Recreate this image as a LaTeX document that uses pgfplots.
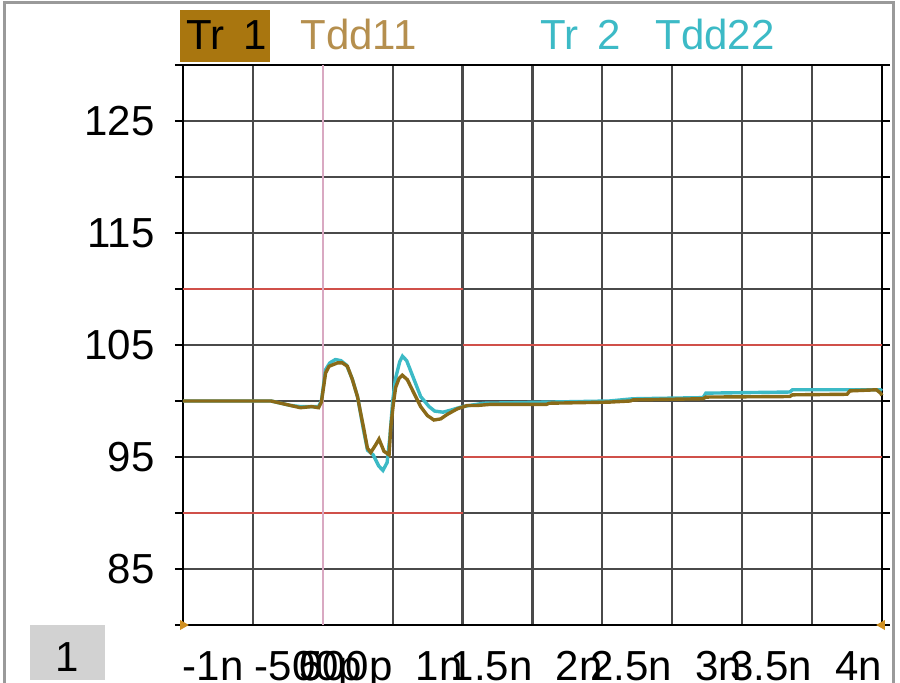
\documentclass[border=0pt]{standalone}
\usepackage{pgfplots}
\pgfplotsset{compat=1.18}
\usepackage{fontspec}
\setmainfont{Liberation Sans}

\definecolor{trone}{HTML}{8A6A18}
\definecolor{trtwo}{HTML}{3CBAC6}
\definecolor{tddone}{HTML}{B58F4E}
\definecolor{tronebox}{HTML}{A9760F}
\definecolor{limred}{HTML}{D0504A}
\definecolor{zeropink}{HTML}{D9A9C2}
\definecolor{gridc}{HTML}{4A4A4A}
\definecolor{framec}{HTML}{9A9A9A}
\definecolor{mkr}{HTML}{D09020}

% zero-width tick labels, hanging right or left of the tick
\newcommand{\Lt}[1]{\makebox[0pt][l]{#1}}
\newcommand{\Rt}[1]{\makebox[0pt][r]{#1}}

\begin{document}
\fontsize{21}{24}\selectfont
\begin{tikzpicture}
\useasboundingbox (-91.5pt,-29pt) rectangle (358.5pt,312.5pt);
\begin{axis}[
    at={(0pt,0pt)}, anchor=south west,
    scale only axis,
    width=349.5pt, height=280pt,
    xmin=-1, xmax=4, ymin=80, ymax=130,
    xtick={-1,-0.5,0,0.5,1,1.5,2,2.5,3,3.5,4},
    xticklabels={\Lt{-1n},\Lt{\hspace*{1pt}-500p},\Rt{0},\Rt{500p},\Rt{1n},\Rt{1.5n},\Rt{2n},\Rt{2.5n},\Rt{3n},\Rt{3.5n},\Rt{4n}},
    ytick={85,95,105,115,125},
    yticklabels={85,95,105,115,125},
    minor ytick={80,90,100,110,120,130},
    grid=both,
    major grid style={gridc, line width=1.1pt},
    minor grid style={gridc, line width=1.1pt},
    tick align=outside,
    major tick length=4pt, minor tick length=4pt,
    xtick style={draw=none},
    ytick style={black, line width=0.8pt},
    minor tick style={black, line width=0.8pt},
    axis line style={black, line width=1pt},
    ticklabel style={font=\fontsize{21}{24}\selectfont},
    xticklabel style={anchor=north, inner sep=0pt, yshift=-9pt},
    yticklabel style={anchor=east, inner sep=0pt, xshift=-10pt},
    clip=false,
]
% limit lines
\addplot[limred, line width=1pt] coordinates {(-1,110)(1,110)};
\addplot[limred, line width=1pt] coordinates {(-1,90)(1,90)};
\addplot[limred, line width=1pt] coordinates {(1,105)(4,105)};
\addplot[limred, line width=1pt] coordinates {(1,95)(4,95)};
% time zero
\addplot[zeropink, line width=1pt] coordinates {(0,80)(0,130)};

% Tdd22
\addplot[trtwo, line width=1.7pt] coordinates {
(-1,100.0)(-0.37,100.0)(-0.23,99.6)(-0.16,99.5)(-0.03,99.5)(-0.01,100)
(0.02,102.8)(0.05,103.4)(0.09,103.7)(0.13,103.6)(0.17,103.2)(0.21,102.0)
(0.25,100.3)(0.29,97.5)(0.32,95.6)(0.36,95.2)(0.40,94.2)(0.43,93.8)
(0.46,94.5)(0.48,96.8)(0.50,100.0)(0.52,102.0)(0.55,103.5)(0.57,104.0)
(0.60,103.6)(0.65,102.0)(0.70,100.4)(0.76,99.5)(0.80,99.1)(0.86,99.0)
(0.92,99.2)(1.0,99.5)(1.15,99.8)(1.6,99.9)(2.05,100.0)(2.22,100.2)
(2.72,100.3)(2.74,100.7)(3.34,100.8)(3.36,101.0)(3.75,101.0)(3.99,101.0)(4.0,100.9)
};
% Tdd11
\addplot[trone, line width=1.7pt] coordinates {
(-1,100.0)(-0.37,100.0)(-0.23,99.6)(-0.16,99.4)(-0.08,99.5)(-0.03,99.4)(-0.01,99.9)
(0.02,102.5)(0.045,103.1)(0.105,103.4)(0.14,103.4)(0.176,103.1)(0.212,101.9)
(0.248,100.4)(0.271,98.9)(0.295,97.4)(0.319,95.8)(0.343,95.4)(0.379,96.1)
(0.402,96.6)(0.438,95.5)(0.474,95.2)(0.486,97.6)(0.505,99.8)(0.521,101.2)
(0.545,102.0)(0.569,102.3)(0.605,101.9)(0.652,100.7)(0.70,99.5)(0.748,98.7)
(0.795,98.3)(0.843,98.4)(0.89,98.8)(0.962,99.3)(1.033,99.6)(1.105,99.6)
(1.2,99.7)(1.6,99.7)(1.62,99.8)(2.05,99.9)(2.2,100.0)(2.22,100.1)(2.72,100.2)
(2.74,100.35)(3.34,100.4)(3.36,100.55)(3.75,100.6)(3.77,100.9)(3.96,101.0)
(3.99,100.7)(4.0,100.5)
};
% reference markers
\addplot[only marks, mkr, mark=triangle*, mark size=2.5pt, mark options={rotate=-90}] coordinates {(-1,80)};
\addplot[only marks, mkr, mark=triangle*, mark size=2.5pt, mark options={rotate=90}] coordinates {(4,80)};
\end{axis}

% header
\fill[tronebox] (-1.5pt,281.5pt) rectangle (43.5pt,307.5pt);
\node[anchor=base west, inner sep=0pt] at (1.5pt,287.5pt) {Tr\hspace{0.45em}1};
\node[anchor=base west, inner sep=0pt, text=tddone] at (58.5pt,287.5pt) {Tdd11};
\node[anchor=base west, inner sep=0pt, text=trtwo] at (178.5pt,287.5pt) {Tr\hspace{0.45em}2};
\node[anchor=base west, inner sep=0pt, text=trtwo] at (236pt,287.5pt) {Tdd22};

% channel box
\fill[gray!35] (-76.5pt,-27.5pt) rectangle (-39pt,0pt);
\node[anchor=base, inner sep=0pt] at (-57.75pt,-23.5pt) {1};

% window frame
\draw[framec, line width=1.5pt] (-89pt,-40pt) -- (-89pt,311pt) -- (355pt,311pt) -- (355pt,-40pt);
\end{tikzpicture}
\end{document}
